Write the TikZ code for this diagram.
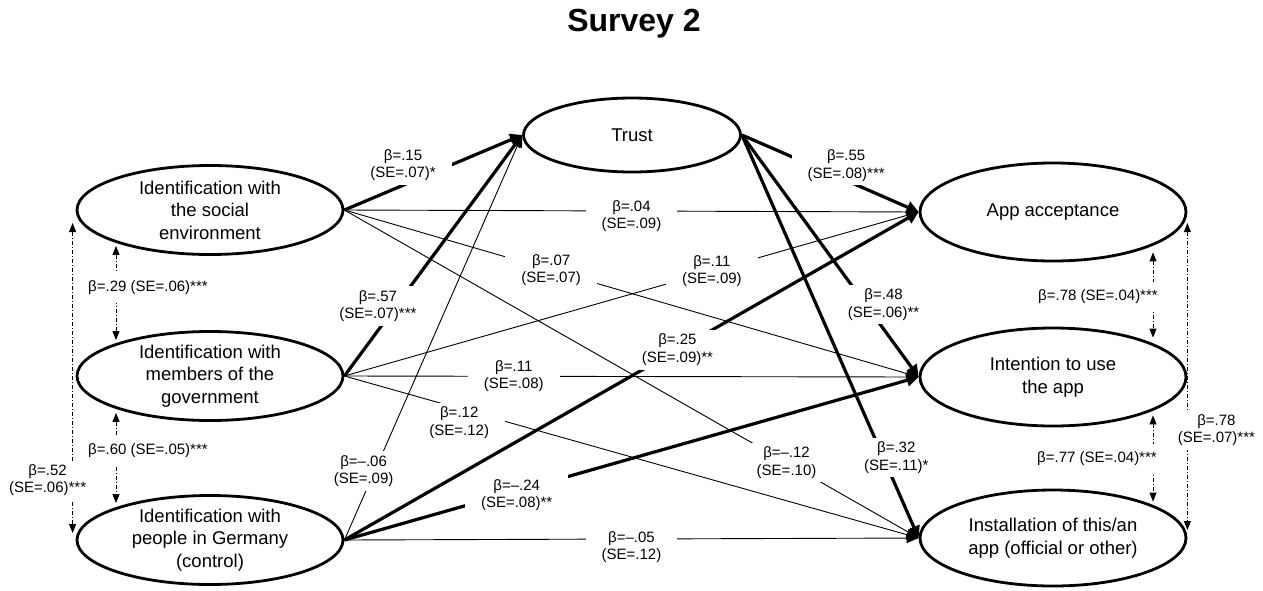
\documentclass[tikz,border=0pt]{standalone}
\usepackage{fontspec}
\setmainfont{Liberation Sans}
\usetikzlibrary{shapes.geometric,arrows.meta}

\begin{document}
\begin{tikzpicture}[x=1pt, y=-1pt,
  latent/.style={ellipse, draw, line width=2.8pt, minimum width=266pt, minimum height=89pt,
    inner sep=0pt, align=center, font=\fontsize{18.5}{22.5}\selectfont},
  sig/.style={line width=3.2pt, -{Triangle[length=12pt,width=12pt]}},
  ns/.style={line width=0.9pt, -{Triangle[length=12pt,width=10pt]}},
  coef/.style={fill=white, inner xsep=16pt, inner ysep=4pt, align=center, font=\fontsize{15}{17.5}\selectfont},
  covlbl/.style={coef, inner xsep=2pt},
  cov/.style={line width=0.9pt, dash pattern=on 4pt off 2pt on 1pt off 2pt,
    {Triangle[length=9pt,width=7pt]}-{Triangle[length=9pt,width=7pt]}}]
  \useasboundingbox (0,0) rectangle (1263,590);
  \node[font=\fontsize{32}{38}\selectfont\bfseries] (title) at (634,24) {Survey 2};
  % predictors
  \node[latent] (soc) at (210,210) {Identification with\\the social\\environment};
  \node[latent] (gov) at (210,376) {Identification with\\members of the\\government};
  \node[latent] (ger) at (210,540) {Identification with\\people in Germany\\(control)};
  % mediator
  \node[latent, minimum width=217pt, minimum height=74pt] (trust) at (632,135) {Trust};
  % outcomes
  \node[latent, minimum height=98pt] (acc) at (1053,212) {App acceptance};
  \node[latent, minimum height=98pt] (int) at (1053,377) {Intention to use\\the app};
  \node[latent, minimum height=96pt] (ins) at (1053,538) {Installation of this/an\\app (official or other)};
  % paths
  \path
    (soc.east) edge[ns] node[coef, pos=.50, yshift=-5pt] {β=.04\\(SE=.09)} (acc.west)
    (soc.east) edge[ns] node[coef, pos=.36] {β=.07\\(SE=.07)} (int.west)
    (soc.east) edge[ns] node[coef, pos=.77] {β=–.12\\(SE=.10)} (ins.west)
    (gov.east) edge[ns] node[coef, pos=.64] {β=.11\\(SE=.09)} (acc.west)
    (gov.east) edge[ns] node[coef, pos=.295] {β=.11\\(SE=.08)} (int.west)
    (gov.east) edge[ns] node[coef, pos=.20, yshift=-14pt] {β=.12\\(SE=.12)} (ins.west)
    (ger.east) edge[ns] node[coef, pos=.17, xshift=-11pt] {β=–.06\\(SE=.09)} (trust.west)
    (ger.east) edge[ns] node[coef, pos=.50, yshift=-8pt] {β=–.05\\(SE=.12)} (ins.west)
    (soc.east) edge[sig] node[coef, pos=.33, yshift=20pt] {β=.15\\(SE=.07)*} (trust.west)
    (gov.east) edge[sig] node[coef, pos=.29, xshift=-18pt] {β=.57\\(SE=.07)***} (trust.west)
    (ger.east) edge[sig] node[coef, pos=.58] {β=.25\\(SE=.09)**} (acc.west)
    (ger.east) edge[sig] node[coef, pos=.30, yshift=-4pt] {β=–.24\\(SE=.08)**} (int.west)
    (trust.east) edge[sig] node[coef, pos=.59, yshift=15pt] {β=.55\\(SE=.08)***} (acc.west)
    (trust.east) edge[sig] node[coef, pos=.70, xshift=18pt] {β=.48\\(SE=.06)**} (int.west)
    (trust.east) edge[sig] node[coef, pos=.80, xshift=13pt] {β=.32\\(SE=.11)*} (ins.west);
  % covariances
  \draw[cov] ([xshift=-94pt, yshift=10pt]soc.south) -- node[covlbl, inner ysep=8pt, xshift=32pt, yshift=5pt] {β=.29 (SE=.06)***} ([xshift=-94pt, yshift=-10pt]gov.north);
  \draw[cov] ([xshift=-94pt, yshift=9pt]gov.south) -- node[covlbl, inner ysep=8pt, xshift=32pt, yshift=7pt] {β=.60 (SE=.05)***} ([xshift=-94pt, yshift=-9pt]ger.north);
  \draw[cov] ([xshift=-3pt, yshift=-13pt]soc.west) -- node[covlbl, pos=.83, xshift=-25pt] {β=.52\\(SE=.06)***} ([xshift=-3pt, yshift=7pt]ger.west);
  \draw[cov] ([xshift=100pt, yshift=10pt]acc.south) -- node[covlbl, inner ysep=8pt, xshift=-55pt, yshift=-2pt] {β=.78 (SE=.04)***} ([xshift=100pt, yshift=-11pt]int.north);
  \draw[cov] ([xshift=100pt, yshift=12pt]int.south) -- node[covlbl, inner ysep=8pt, xshift=-56pt] {β=.77 (SE=.04)***} ([xshift=100pt, yshift=-13pt]ins.north);
  \draw[cov] ([yshift=-11pt]acc.east) -- node[covlbl, pos=.674, xshift=29pt] {β=.78\\(SE=.07)***} ([yshift=8pt]ins.east);
\end{tikzpicture}
\end{document}
